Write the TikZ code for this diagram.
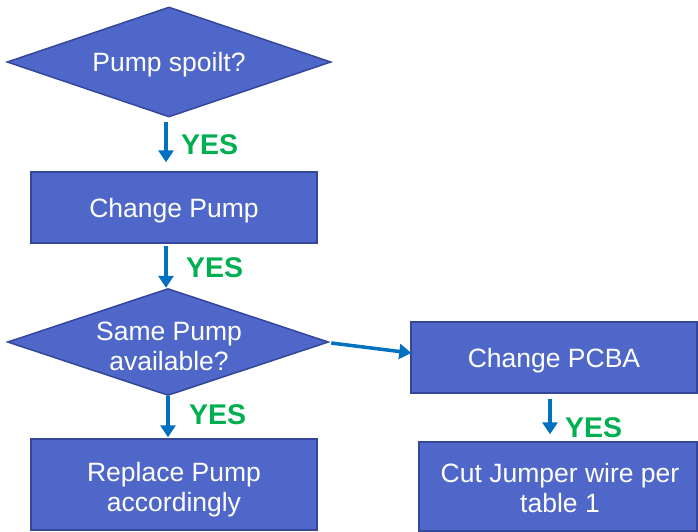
\documentclass[tikz,border=0pt]{standalone}
\usepackage{fontspec}
\setmainfont{Liberation Sans}
\usetikzlibrary{shapes.geometric,arrows.meta,calc}
\definecolor{boxfill}{HTML}{4F67C8}
\definecolor{boxline}{HTML}{34479A}
\definecolor{arrowblue}{HTML}{0070C0}
\definecolor{yesgreen}{HTML}{00B050}
\begin{document}
\begin{tikzpicture}[x=1pt,y=-1pt,
  every node/.style={font=\fontsize{26.5}{30}\selectfont},
  box/.style={draw=boxline,line width=1.5pt,fill=boxfill,inner sep=0pt},
  decision/.style={diamond,draw=boxline,line width=1.5pt,fill=boxfill,inner sep=0pt,aspect=2.9},
  boxtext/.style={text=white,align=center,inner sep=0pt},
  flow/.style={draw=arrowblue,line width=3.5pt,-{Triangle[width=15pt,length=12pt]}},
  yeslabel/.style={text=yesgreen,font=\fontsize{28.5}{30}\bfseries\selectfont,anchor=west,inner sep=0pt}]
\useasboundingbox (0,0) rectangle (698,531);
% decisions
\node[decision,minimum width=324pt,minimum height=110pt] (d1) at (169,62) {};
\node[boxtext] (d1t) at (169,65) {Pump spoilt?};
\node[decision,minimum width=321pt,minimum height=107pt] (d2) at (168,342) {};
\node[boxtext] (d2t) at (169,346) {Same Pump\\available?};
% boxes
\node[box,minimum width=286pt,minimum height=71pt] (r1) at (174,207.5) {};
\node[boxtext] (r1t) at (174,210.5) {Change Pump};
\node[box,minimum width=286pt,minimum height=71pt] (pcba) at (554,357.5) {};
\node[boxtext] (pcbat) at (554,360.5) {Change PCBA};
\node[box,minimum width=286pt,minimum height=91pt] (rep) at (174,484.5) {};
\node[boxtext] (rept) at (174,489.5) {Replace Pump\\accordingly};
\node[box,minimum width=278pt,minimum height=89pt] (cut) at (558,486.5) {};
\node[boxtext] (cutt) at (560,488.5) {Cut Jumper wire per\\table 1};
% connectors
\coordinate (a1s) at ($(d1.south)+(-3,4)$);
\draw[flow] (a1s) -- (a1s |- r1.north) [shorten >=9pt];
\coordinate (a2s) at ($(r1.south)+(-8,2)$);
\draw[flow] (a2s) -- (a2s |- d2.north);
\coordinate (a3s) at ($(d2.south)+(0,0)$);
\draw[flow] (a3s) -- (a3s |- rep.north) [shorten >=1pt];
\coordinate (a4s) at ($(pcba.south)+(-4,5)$);
\draw[flow] (a4s) -- (a4s |- cut.north) [shorten >=7pt];
\draw[flow] ($(d2.east)+(2,1)$) -- ($(pcba.west)+(1,-4.5)$);
% labels
\node[yeslabel] (yes1) at (181,145) {YES};
\node[yeslabel] (yes2) at (186,268) {YES};
\node[yeslabel] (yes3) at (189,415) {YES};
\node[yeslabel] (yes4) at (565,428) {YES};
\end{tikzpicture}
\end{document}
